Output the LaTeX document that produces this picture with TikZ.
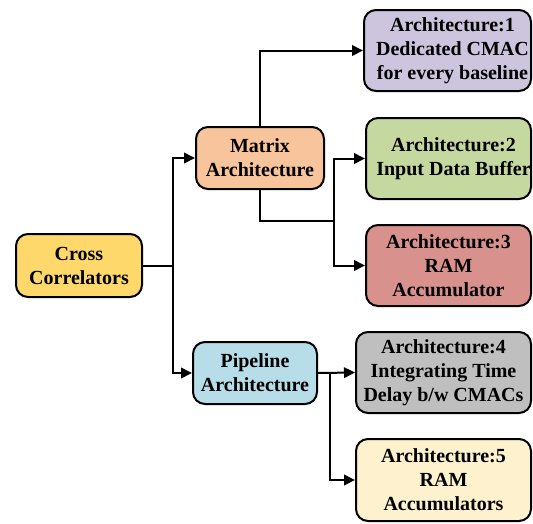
\documentclass[tikz,border=0pt]{standalone}
\usepackage{fontspec}
\setmainfont{Liberation Serif}
\usetikzlibrary{arrows.meta}
\definecolor{ccfill}{HTML}{FED86B}
\definecolor{matfill}{HTML}{F8C49B}
\definecolor{pipfill}{HTML}{B6DDE8}
\definecolor{aonefill}{HTML}{CDC4DE}
\definecolor{atwofill}{HTML}{C4D8A0}
\definecolor{athreefill}{HTML}{D8918C}
\definecolor{afourfill}{HTML}{BFBFBF}
\definecolor{afivefill}{HTML}{FEF1CD}
\tikzset{
  boxtext/.style={inner sep=0pt, align=center, font=\bfseries\fontsize{20}{24}\selectfont},
  box/.style={draw=black, line width=2pt, rounded corners=12pt, boxtext},
  arr/.style={line width=2pt, -{Triangle[length=11pt,width=10.5pt]}},
  wire/.style={line width=2pt},
}
\begin{document}
\begin{tikzpicture}[x=1pt,y=-1pt]
\useasboundingbox (0,0) rectangle (533,523);
% root
\node[box, fill=ccfill, minimum width=126pt, minimum height=63pt] (cc) at (79,265.5) {Cross\\Correlators};
% second level
\node[box, fill=matfill, minimum width=128pt, minimum height=62pt] (mat) at (260,158) {Matrix\\Architecture};
\node[box, fill=pipfill, minimum width=124pt, minimum height=62pt] (pip) at (255,373) {Pipeline\\Architecture};
% architectures (the first two carry their text a little right of centre)
\node[box, fill=aonefill, minimum width=167pt, minimum height=81pt] (a1) at (447.5,50.5) {};
\node[boxtext] (a1t) at (452.5,50.5) {Architecture:1\\Dedicated CMAC\\for every baseline};
\node[box, fill=atwofill, minimum width=165pt, minimum height=81pt] (a2) at (448.5,158.5) {};
\node[boxtext] (a2t) at (453.5,158.5) {Architecture:2\\Input Data Buffer};
\node[box, fill=athreefill, minimum width=165pt, minimum height=81pt] (a3) at (448.5,265.5) {Architecture:3\\RAM\\Accumulator};
\node[box, fill=afourfill, minimum width=175pt, minimum height=81pt] (a4) at (443.5,372.5) {Architecture:4\\Integrating Time\\Delay b/w CMACs};
\node[box, fill=afivefill, minimum width=175pt, minimum height=82pt] (a5) at (443.5,480) {Architecture:5\\RAM\\Accumulators};
% connectors
\coordinate (sp) at (173,265.5);
\coordinate (mj) at (334,221);
\draw[wire] (cc.east) -- (sp);
\draw[arr] (sp) |- (mat.west);
\draw[arr] (sp) |- (pip.west);
\draw[arr] (mat.north) |- (a1.west);
\draw[wire] (mat.south) |- (mj);
\draw[arr] (mj) |- (a2.west);
\draw[arr] (mj) |- (a3.west);
\draw[arr] (pip.east) -- (a4.west);
\draw[arr] (pip.east) -- ++(12,0) |- (a5.west);
\end{tikzpicture}
\end{document}
